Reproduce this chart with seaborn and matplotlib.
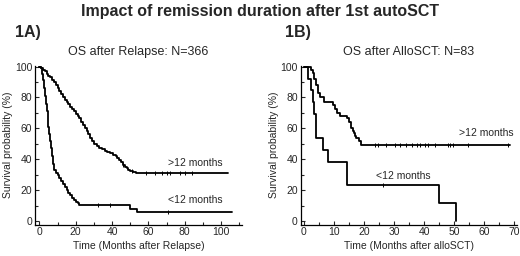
import pandas as pd
import numpy as np
import matplotlib
matplotlib.use("Agg")
import matplotlib.pyplot as plt
from matplotlib.ticker import MultipleLocator
import seaborn as sns

# ---- data (Kaplan-Meier step points, time in months, survival %) ----
relapse_gt12_t = [0, 1, 2, 3, 4, 5, 6, 7, 8, 9, 10, 11, 12, 13, 14, 15, 16, 17, 18, 19,
                  20, 21, 22, 23, 24, 25, 26, 27, 28, 29, 30, 31.5, 33, 34.5, 36, 37.5,
                  39, 40.5, 42, 43, 44, 45, 46, 47, 48, 49, 50, 51.5, 53, 104]
relapse_gt12_s = [100, 99, 98, 97, 95.5, 94, 93, 91.5, 90, 88, 86, 84, 82, 80, 78.5, 77,
                  75.5, 74, 72.5, 71, 69.5, 68, 66.5, 64, 62, 60, 58, 56, 54, 52, 50, 48.5,
                  47.5, 46.5, 45.5, 44.5, 44, 43, 42, 41, 39.5, 38, 36.5, 35, 34, 33, 32.5,
                  31.5, 31, 31]
relapse_lt12_t = [0, 1, 1.5, 2, 2.5, 3, 3.5, 4, 4.5, 5, 5.5, 6, 6.5, 7, 7.5, 8, 9, 10, 11,
                  12, 13, 14, 15, 16, 17, 18, 19, 20, 21, 22, 50, 54, 106]
relapse_lt12_s = [100, 99, 95, 91, 86, 81, 76, 71, 66, 61, 56, 52, 47, 42, 37, 33, 31, 29.5,
                  28, 26, 24, 22, 20, 18, 16.5, 15, 13.5, 12.5, 11.5, 10.5, 8, 6, 6]
relapse_cens_gt12 = [46, 51, 58.6, 63.7, 67.3, 70.1, 71.9, 77.4, 80.2, 83.9]
relapse_cens_lt12 = [32.5, 38.9, 71]

allo_gt12_t = [0, 2.5, 3, 3.5, 4, 4.7, 5.5, 6.6, 9.6, 10.3, 11, 12, 14.2, 15, 15.5, 15.8,
               16.2, 16.5, 17, 17.4, 18.2, 19, 68.5]
allo_gt12_s = [100, 98, 96, 92, 88, 83, 80, 77, 75, 72.5, 70, 68, 66.5, 64, 62, 60.5, 58.5,
               57, 55, 53.5, 52, 49.5, 49.5]
allo_lt12_t = [0, 1.5, 2.5, 3, 3.5, 4, 6.4, 8, 14.2, 44.8, 50.5, 50.6]
allo_lt12_s = [100, 92, 85, 77, 69, 54, 46, 38.5, 23, 11.5, 0, 0]
allo_cens_gt12 = [23.6, 24.7, 27.4, 30.2, 31.9, 34.1, 35.8, 37.5, 38.5, 40.2, 41.3, 43.5,
                  47.9, 48.5, 49.6, 54.6, 67.9]
allo_cens_lt12 = [26.3]


def km_frame(t_a, s_a, t_b, s_b):
    a = pd.DataFrame({"t": t_a, "s": s_a, "group": ">12"})
    b = pd.DataFrame({"t": t_b, "s": s_b, "group": "<12"})
    return pd.concat([a, b], ignore_index=True)


def cens_frame(ta, tb, t_a, s_a, t_b, s_b):
    # survival value at censor time = value of the step curve at that time
    ya = [s_a[np.searchsorted(t_a, x, side="right") - 1] for x in ta]
    yb = [s_b[np.searchsorted(t_b, x, side="right") - 1] for x in tb]
    return pd.DataFrame({"t": list(ta) + list(tb), "s": ya + yb})


sns.set_style("white")
plt.rcParams["font.family"] = ["Liberation Sans", "DejaVu Sans"]

fig = plt.figure(figsize=(5.2, 2.56), dpi=100)
ax1 = fig.add_axes([0.0673, 0.123, 0.398, 0.620])
ax2 = fig.add_axes([0.578, 0.123, 0.416, 0.620])

panels = [
    (ax1, relapse_gt12_t, relapse_gt12_s, relapse_lt12_t, relapse_lt12_s,
     relapse_cens_gt12, relapse_cens_lt12, (-2.4, 111.5), 20, 10,
     "Time (Months after Relapse)", "OS after Relapse: N=366",
     [(85.7, 37.5, ">12 months"), (85.7, 13.4, "<12 months")]),
    (ax2, allo_gt12_t, allo_gt12_s, allo_lt12_t, allo_lt12_s,
     allo_cens_gt12, allo_cens_lt12, (-1.1, 70.8), 10, 5,
     "Time (Months after alloSCT)", "OS after AlloSCT: N=83",
     [(60.5, 57, ">12 months"), (33, 29, "<12 months")]),
]

for (ax, ta, sa, tb, sb, ca, cb, xl, major, minor, xlab, sub, notes) in panels:
    df = km_frame(ta, sa, tb, sb)
    sns.lineplot(data=df, x="t", y="s", hue="group", palette=["black", "black"],
                 drawstyle="steps-post", estimator=None, linewidth=1.3,
                 legend=False, ax=ax)
    cf = cens_frame(ca, cb, ta, sa, tb, sb)
    sns.scatterplot(data=cf, x="t", y="s", marker="|", color="black", s=10,
                    linewidth=0.7, ax=ax)
    ax.set_xlim(*xl)
    ax.set_ylim(-2.3, 100.5)
    ax.xaxis.set_major_locator(MultipleLocator(major))
    ax.xaxis.set_minor_locator(MultipleLocator(minor))
    ax.yaxis.set_minor_locator(MultipleLocator(10))
    ax.set_yticks([0, 20, 40, 60, 80, 100])
    ax.tick_params(axis="both", which="major", direction="in", length=3, width=0.8,
                   labelsize=7.5, pad=2, bottom=True, left=True)
    ax.tick_params(axis="both", which="minor", direction="in", length=2, width=0.8,
                   bottom=True, left=True)
    for side in ["top", "right"]:
        ax.spines[side].set_visible(False)
    for side in ["left", "bottom"]:
        ax.spines[side].set_color("black")
        ax.spines[side].set_linewidth(0.9)
    ax.set_xlabel(xlab, fontsize=7.5, labelpad=3)
    ax.set_ylabel("Survival probability (%)", fontsize=7.5, labelpad=1)
    ax.set_title(sub, fontsize=9, pad=8)
    for x, y, txt in notes:
        ax.text(x, y, txt, fontsize=7.5, ha="center", va="center")

fig.text(0.0289, 0.872, "1A)", fontsize=11.5, fontweight="bold", ha="left", va="center")
fig.text(0.548, 0.872, "1B)", fontsize=11.5, fontweight="bold", ha="left", va="center")
fig.text(0.5, 0.957, "Impact of remission duration after 1st autoSCT",
         fontsize=11.5, fontweight="bold", ha="center", va="center")

fig.savefig("out.png", dpi=100)
